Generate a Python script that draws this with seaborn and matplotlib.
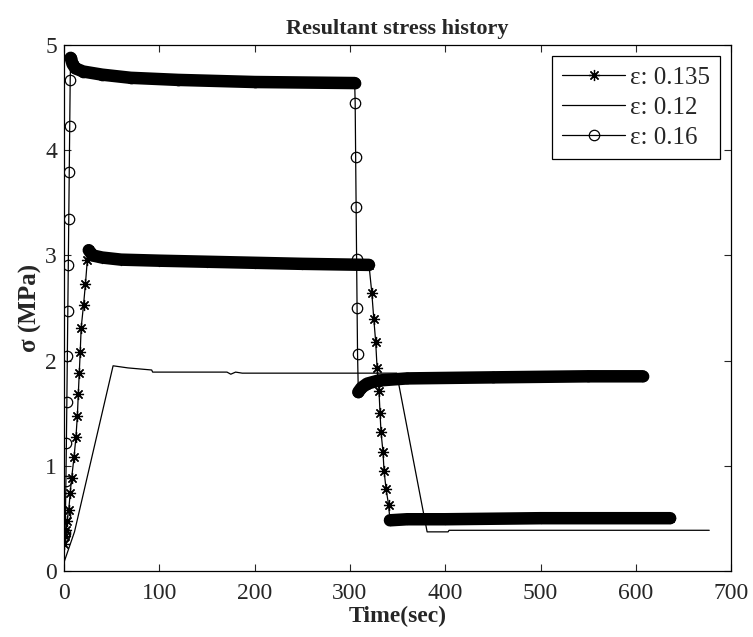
import matplotlib
matplotlib.use("Agg")
import matplotlib.pyplot as plt
import seaborn as sns
from matplotlib.lines import Line2D

## Data (time in s, stress in MPa)

# eps 0.135 (asterisks)
star_ramp_t = [0, 1, 2, 3, 5, 6.5, 8, 10.5, 12.5, 14, 15, 16, 17, 18, 20.5, 22.5, 24.5]
star_ramp_s = [0.25, 0.33, 0.39, 0.47, 0.58, 0.74, 0.88, 1.08, 1.27, 1.47, 1.68, 1.88, 2.08, 2.31, 2.53, 2.73, 2.96]
star_top_t = [26, 30, 40, 60, 100, 150, 200, 250, 320]
star_top_s = [3.05, 3.00, 2.98, 2.96, 2.95, 2.94, 2.93, 2.92, 2.91]
star_drop_t = [323, 325, 327, 328.5, 330.5, 331.6, 332.6, 334.7, 335.8, 337.9, 340.5]
star_drop_s = [2.64, 2.40, 2.18, 1.93, 1.71, 1.50, 1.32, 1.13, 0.95, 0.78, 0.63]
star_low_t = [342, 360, 400, 500, 636]
star_low_s = [0.48, 0.49, 0.49, 0.50, 0.50]

# eps 0.12 (plain line)
thin_t = [0, 11, 51.5, 67, 92, 93, 171, 175, 180, 187, 349, 381, 403, 404, 677]
thin_s = [0.08, 0.37, 1.95, 1.93, 1.91, 1.89, 1.89, 1.87, 1.89, 1.88, 1.88, 0.37, 0.37, 0.385, 0.385]

# eps 0.16 (circles)
circ_ramp_t = [0.5, 1, 1.5, 2, 2.5, 3, 3.5, 4, 4.5, 5, 5.5, 6, 6.5]
circ_ramp_s = [0.33, 0.36, 0.53, 0.85, 1.22, 1.61, 2.04, 2.47, 2.91, 3.35, 3.79, 4.23, 4.67]
circ_top_t = [7, 9, 12, 20, 40, 70, 120, 200, 305]
circ_top_s = [4.88, 4.82, 4.78, 4.75, 4.72, 4.69, 4.67, 4.65, 4.64]
circ_drop_t = [305.5, 306, 306.5, 307, 307.5, 308]
circ_drop_s = [4.45, 3.94, 3.46, 2.97, 2.50, 2.06]
circ_low_t = [308.8, 312, 318, 330, 360, 450, 550, 607]
circ_low_s = [1.70, 1.74, 1.78, 1.81, 1.83, 1.84, 1.85, 1.85]

labels = ["\u03b5: 0.135", "\u03b5: 0.12", "\u03b5: 0.16"]

sns.set_style("ticks")
plt.rcParams["font.family"] = ["Liberation Serif", "DejaVu Serif"]

fig = plt.figure(figsize=(7.53, 6.37), dpi=100)
ax = fig.add_axes([0.085, 0.104, 0.886, 0.825])

star = (8, 2, 0)
thin_lw = 0.9
band_lw = 9

# full series as thin line with markers
star_t = star_ramp_t + star_top_t + star_drop_t + star_low_t
star_s = star_ramp_s + star_top_s + star_drop_s + star_low_s
circ_t = circ_ramp_t + circ_top_t + circ_drop_t + circ_low_t
circ_s = circ_ramp_s + circ_top_s + circ_drop_s + circ_low_s

sns.lineplot(x=thin_t, y=thin_s, sort=False, estimator=None, color="k", lw=thin_lw, ax=ax)
sns.lineplot(x=star_t, y=star_s, sort=False, estimator=None, color="k", lw=thin_lw,
             marker=star, markersize=8, mec="k", mew=0.9, ax=ax)
sns.lineplot(x=circ_t, y=circ_s, sort=False, estimator=None, color="k", lw=thin_lw,
             marker="o", markersize=7.5, mfc="none", mec="k", mew=0.9, ax=ax)

# dense marker plateaus show up as solid bands
for tt, ss in [(star_top_t, star_top_s), (star_low_t, star_low_s),
               (circ_top_t, circ_top_s), (circ_low_t, circ_low_s)]:
    sns.lineplot(x=tt, y=ss, sort=False, estimator=None, color="k", lw=band_lw,
                 solid_capstyle="round", ax=ax)

ax.set_xlim(0, 700)
ax.set_ylim(0, 5)
ax.set_xticks(range(0, 701, 100))
ax.set_yticks(range(0, 6))
ax.tick_params(direction="in", top=True, right=True, labelsize=17, length=5, width=0.8, pad=5)
ax.tick_params(axis="x", pad=9)
for sp in ax.spines.values():
    sp.set_linewidth(0.9)
    sp.set_color("k")

ax.set_title("Resultant stress history", fontsize=16, fontweight="bold", pad=8)
ax.set_xlabel("Time(sec)", fontsize=17, fontweight="bold", labelpad=1)
ax.set_ylabel("\u03c3 (MPa)", fontsize=18, fontweight="bold", labelpad=2)

handles = [
    Line2D([], [], color="k", lw=thin_lw, marker=star, markersize=8, mew=0.9),
    Line2D([], [], color="k", lw=thin_lw),
    Line2D([], [], color="k", lw=thin_lw, marker="o", markersize=7.5, mfc="none", mew=0.9),
]
leg = ax.legend(handles, labels, loc="upper right", fontsize=18, frameon=True,
                fancybox=False, framealpha=1, edgecolor="k", handlelength=2.5,
                borderaxespad=0.45, labelspacing=0.3, handletextpad=0.2,
                borderpad=0.4)
leg.get_frame().set_linewidth(0.9)

fig.savefig("out.png", dpi=100)
